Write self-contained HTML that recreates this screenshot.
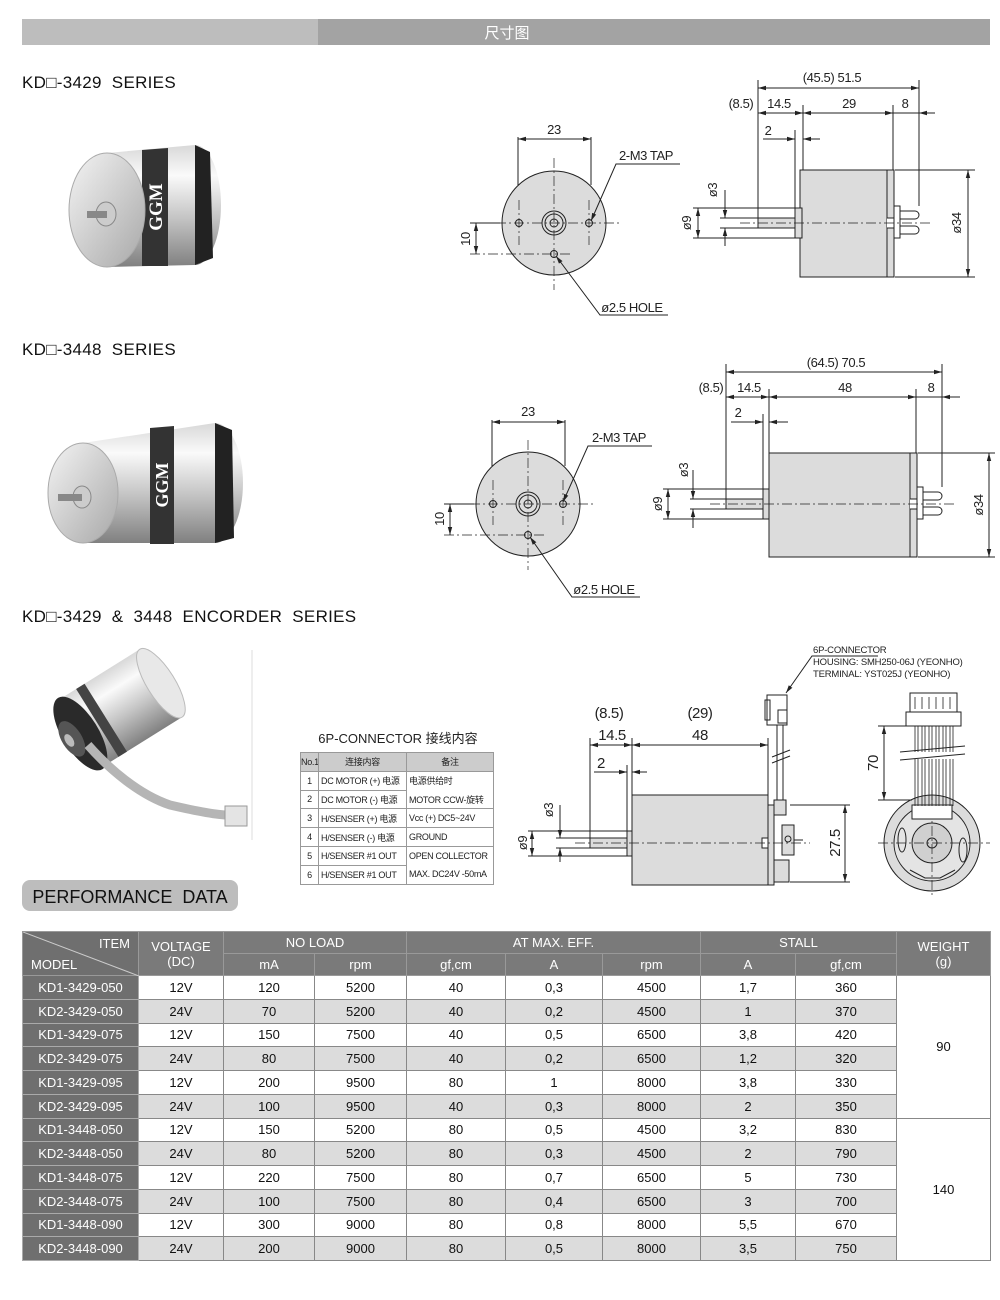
<!DOCTYPE html>
<html><head><meta charset="utf-8">
<style>
*{margin:0;padding:0;box-sizing:border-box}
body{width:1000px;height:1300px;background:#fff;position:relative;overflow:hidden;font-family:"Liberation Sans","Noto Sans CJK SC",sans-serif}
svg{position:absolute;left:0;top:0}
.t{position:absolute;font-size:17px;color:#111;font-family:"Liberation Sans","Noto Sans CJK SC",sans-serif;letter-spacing:0.3px}
table.p{position:absolute;left:22px;top:931px;border-collapse:collapse;font-size:13px;font-family:"Liberation Sans","Noto Sans CJK SC",sans-serif;table-layout:fixed}
table.p td{border:1px solid #888;text-align:center;height:23.75px;padding:0;color:#111}
table.p tr.h td{background:#7a7a7a;color:#fff;height:22px;border-color:#999}
table.p td.m{background:#6f6f6f;color:#fff;border-color:#aaa}
table.p tr.g td{background:#dcdcdc}
table.p tr.g td.m{background:#6f6f6f}
table.p td.w{background:#fff}
table.c{position:absolute;left:300px;top:752px;border-collapse:collapse;font-size:9px;font-family:"Liberation Sans","Noto Sans CJK SC",sans-serif;table-layout:fixed;width:193px}
table.c td{border:1px solid #999;height:18.8px;padding:0 2px;color:#222;white-space:nowrap;overflow:hidden;letter-spacing:-0.3px}
</style></head><body>
<svg width="1000" height="1300" viewBox="0 0 1000 1300" font-family="Liberation Sans, sans-serif">
<defs>
<marker id="a" markerWidth="8" markerHeight="6" refX="8" refY="3" orient="auto-start-reverse" markerUnits="userSpaceOnUse"><path d="M0,0.8L8,3L0,5.2z" fill="#222"/></marker>
<linearGradient id="cyl" x1="0" y1="0" x2="0" y2="1"><stop offset="0" stop-color="#d8d8d8"/><stop offset="0.25" stop-color="#fafafa"/><stop offset="0.6" stop-color="#c4c4c4"/><stop offset="1" stop-color="#808080"/></linearGradient>
<linearGradient id="face" x1="0" y1="0" x2="1" y2="1"><stop offset="0" stop-color="#f4f4f4"/><stop offset="1" stop-color="#a8a8a8"/></linearGradient>
</defs>
<rect x="22" y="19" width="296" height="26" fill="#bdbdbd"/>
<rect x="318" y="19" width="672" height="26" fill="#a3a3a3"/>
<text x="507" y="38" fill="#fff" font-size="15" text-anchor="middle" font-family="Noto Sans CJK SC, sans-serif">尺寸图</text>

<!-- Photo 1 -->
<g>
<path d="M107,153 L195,145 A26,60 0 0 1 195,265 L107,267 Z" fill="url(#cyl)"/>
<path d="M142,150 L168,148 L168,266 L142,266 Z" fill="#333"/>
<text fill="#fff" font-size="19" font-weight="bold" transform="translate(162,207) rotate(-90)" text-anchor="middle" font-family="Liberation Serif, serif">GGM</text>
<path d="M195,145 L210,152 L213,258 L195,265 Z" fill="#222"/>
<ellipse cx="107" cy="210" rx="38" ry="57" fill="url(#face)" stroke="#aaa"/>
<ellipse cx="106" cy="214" rx="10" ry="12" fill="#ccc" stroke="#888"/>
<rect x="87" y="211" width="20" height="7" fill="#888"/>
</g>
<!-- Photo 2 -->
<g>
<path d="M83,443 L215,423 A28,60 0 0 1 215,543 L83,543 Z" fill="url(#cyl)"/>
<path d="M150,428 L174,426 L174,544 L150,544 Z" fill="#333"/>
<text fill="#fff" font-size="18" font-weight="bold" transform="translate(168,485) rotate(-90)" text-anchor="middle" font-family="Liberation Serif, serif">GGM</text>
<path d="M215,423 L232,430 L234,538 L215,543 Z" fill="#222"/>
<ellipse cx="83" cy="493" rx="35" ry="50" fill="url(#face)" stroke="#aaa"/>
<ellipse cx="82" cy="497" rx="9" ry="11" fill="#ccc" stroke="#888"/>
<rect x="58" y="494" width="24" height="7" fill="#888"/>
</g>
<!-- Photo 3 -->
<g transform="rotate(-32 110 715)">
<rect x="75" y="675" width="95" height="80" fill="url(#cyl)"/>
<ellipse cx="170" cy="715" rx="14" ry="40" fill="#e8e8e8" stroke="#bbb"/>
<rect x="95" y="675" width="10" height="80" fill="#444"/>
<ellipse cx="75" cy="715" rx="18" ry="42" fill="#2a2a2a"/>
<ellipse cx="65" cy="715" rx="10" ry="20" fill="#555"/>
<ellipse cx="62" cy="715" rx="4" ry="7" fill="#bbb"/>
</g>
<path d="M88,745 C110,770 140,795 170,805 C200,812 220,815 228,815" stroke="#b5b5b5" stroke-width="9" fill="none"/>
<rect x="225" y="806" width="22" height="20" fill="#e4e4e4" stroke="#999"/>
<line x1="252" y1="650" x2="252" y2="840" stroke="#ddd"/>

<g stroke="#222" stroke-width="1" fill="none">
<!-- Drawing 1 front -->
<circle cx="554" cy="223" r="52" fill="#dcdcdc"/>
<circle cx="554" cy="223" r="12" fill="#dcdcdc"/><circle cx="554" cy="223" r="9"/><circle cx="554" cy="223" r="4"/>
<circle cx="519" cy="223" r="3.5"/><circle cx="589" cy="223" r="3.5"/><circle cx="554" cy="254" r="3.5"/>
<g stroke-dasharray="10,3,2,3" stroke-width="0.7"><line x1="496" y1="223" x2="620" y2="223"/><line x1="554" y1="158" x2="554" y2="290"/><line x1="470" y1="254" x2="570" y2="254"/><line x1="519" y1="200" x2="519" y2="245"/><line x1="589" y1="200" x2="589" y2="245"/></g>
<line x1="518" y1="137" x2="518" y2="185"/><line x1="591" y1="137" x2="591" y2="185"/>
<line x1="518" y1="139" x2="591" y2="139" marker-start="url(#a)" marker-end="url(#a)"/>
<line x1="470" y1="223" x2="500" y2="223"/><line x1="476" y1="223" x2="476" y2="254" marker-start="url(#a)" marker-end="url(#a)"/>
<polyline points="591,221 616,164 680,164" marker-start="url(#a)"/>
<polyline points="556,256 600,315 668,315" marker-start="url(#a)"/>
<!-- Drawing 1 side -->
<rect x="800" y="170" width="94" height="107" fill="#dcdcdc"/>
<line x1="887" y1="170" x2="887" y2="277"/>
<rect x="758" y="218" width="37" height="10" fill="#dcdcdc"/>
<rect x="795" y="208" width="7" height="30" fill="#dcdcdc"/>
<path d="M887,218 h7 v10 h-7" fill="#fff"/>
<rect x="894" y="206" width="6" height="32"/>
<path d="M900,211 h15 a4,4 0 0 1 0,8 h-15 M900,226 h15 a4,4 0 0 1 0,8 h-15"/>
<line x1="740" y1="223" x2="930" y2="223" stroke-dasharray="10,3,2,3" stroke-width="0.7"/>
<line x1="758" y1="80" x2="758" y2="218"/><line x1="803" y1="105" x2="803" y2="170"/><line x1="795" y1="130" x2="795" y2="208"/><line x1="893" y1="105" x2="893" y2="170"/><line x1="919" y1="80" x2="919" y2="206"/>
<line x1="758" y1="88" x2="919" y2="88" marker-start="url(#a)" marker-end="url(#a)"/>
<line x1="758" y1="113" x2="803" y2="113" marker-start="url(#a)" marker-end="url(#a)"/>
<line x1="803" y1="113" x2="893" y2="113" marker-start="url(#a)" marker-end="url(#a)"/>
<line x1="893" y1="113" x2="935" y2="113"/><line x1="919" y1="113" x2="935" y2="113" marker-start="url(#a)"/>
<line x1="763" y1="139" x2="795" y2="139" marker-end="url(#a)"/><line x1="820" y1="139" x2="803" y2="139" marker-end="url(#a)"/>
<line x1="895" y1="170" x2="975" y2="170"/><line x1="895" y1="277" x2="975" y2="277"/>
<line x1="968" y1="170" x2="968" y2="277" marker-start="url(#a)" marker-end="url(#a)"/>
<line x1="693" y1="208" x2="795" y2="208"/><line x1="693" y1="238" x2="795" y2="238"/>
<line x1="698" y1="208" x2="698" y2="238" marker-start="url(#a)" marker-end="url(#a)"/>
<line x1="720" y1="218" x2="758" y2="218"/><line x1="720" y1="228" x2="758" y2="228"/>
<line x1="725" y1="190" x2="725" y2="218" marker-end="url(#a)"/><line x1="725" y1="246" x2="725" y2="228" marker-end="url(#a)"/>

<!-- Drawing 2 front -->
<circle cx="528" cy="504" r="52" fill="#dcdcdc"/>
<circle cx="528" cy="504" r="12" fill="#dcdcdc"/><circle cx="528" cy="504" r="9"/><circle cx="528" cy="504" r="4"/>
<circle cx="493" cy="504" r="3.5"/><circle cx="563" cy="504" r="3.5"/><circle cx="528" cy="535" r="3.5"/>
<g stroke-dasharray="10,3,2,3" stroke-width="0.7"><line x1="470" y1="504" x2="594" y2="504"/><line x1="528" y1="440" x2="528" y2="570"/><line x1="444" y1="535" x2="545" y2="535"/><line x1="493" y1="480" x2="493" y2="525"/><line x1="563" y1="480" x2="563" y2="525"/></g>
<line x1="492" y1="420" x2="492" y2="466"/><line x1="565" y1="420" x2="565" y2="466"/>
<line x1="492" y1="422" x2="565" y2="422" marker-start="url(#a)" marker-end="url(#a)"/>
<line x1="444" y1="504" x2="474" y2="504"/><line x1="450" y1="504" x2="450" y2="535" marker-start="url(#a)" marker-end="url(#a)"/>
<polyline points="563,502 588,446 652,446" marker-start="url(#a)"/>
<polyline points="530,537 572,597 640,597" marker-start="url(#a)"/>
<!-- Drawing 2 side -->
<rect x="769" y="453" width="148" height="104" fill="#dcdcdc"/>
<line x1="910" y1="453" x2="910" y2="557"/>
<rect x="726" y="499" width="37" height="10" fill="#dcdcdc"/>
<rect x="763" y="489" width="6" height="30" fill="#dcdcdc"/>
<path d="M910,499 h7 v10 h-7" fill="#fff"/>
<rect x="917" y="487" width="6" height="32"/>
<path d="M923,492 h15 a4,4 0 0 1 0,8 h-15 M923,507 h15 a4,4 0 0 1 0,8 h-15"/>
<line x1="710" y1="504" x2="955" y2="504" stroke-dasharray="10,3,2,3" stroke-width="0.7"/>
<line x1="726" y1="364" x2="726" y2="499"/><line x1="769" y1="389" x2="769" y2="453"/><line x1="763" y1="414" x2="763" y2="489"/><line x1="916" y1="389" x2="916" y2="453"/><line x1="942" y1="364" x2="942" y2="487"/>
<line x1="726" y1="372" x2="942" y2="372" marker-start="url(#a)" marker-end="url(#a)"/>
<line x1="726" y1="397" x2="769" y2="397" marker-start="url(#a)" marker-end="url(#a)"/>
<line x1="769" y1="397" x2="916" y2="397" marker-start="url(#a)" marker-end="url(#a)"/>
<line x1="916" y1="397" x2="960" y2="397"/><line x1="942" y1="397" x2="960" y2="397" marker-start="url(#a)"/>
<line x1="731" y1="422" x2="763" y2="422" marker-end="url(#a)"/><line x1="788" y1="422" x2="769" y2="422" marker-end="url(#a)"/>
<line x1="918" y1="453" x2="995" y2="453"/><line x1="918" y1="557" x2="995" y2="557"/>
<line x1="989" y1="453" x2="989" y2="557" marker-start="url(#a)" marker-end="url(#a)"/>
<line x1="663" y1="489" x2="763" y2="489"/><line x1="663" y1="519" x2="763" y2="519"/>
<line x1="668" y1="489" x2="668" y2="519" marker-start="url(#a)" marker-end="url(#a)"/>
<line x1="690" y1="499" x2="726" y2="499"/><line x1="690" y1="509" x2="726" y2="509"/>
<line x1="693" y1="470" x2="693" y2="499" marker-end="url(#a)"/><line x1="693" y1="528" x2="693" y2="509" marker-end="url(#a)"/>

<!-- Encoder side -->
<rect x="632" y="795" width="136" height="90" fill="#dcdcdc"/>
<rect x="590" y="838" width="37" height="10" fill="#dcdcdc"/>
<rect x="627" y="831" width="5" height="25" fill="#dcdcdc"/>
<path d="M768,838 h-6 v10 h6" fill="#fff"/>
<rect x="768" y="805" width="6" height="80" fill="#dcdcdc"/>
<rect x="774" y="800" width="12" height="15" fill="#dcdcdc"/>
<rect x="782" y="825" width="12" height="30" fill="#dcdcdc"/><circle cx="788" cy="839" r="3"/>
<rect x="774" y="860" width="15" height="22" fill="#dcdcdc"/>
<line x1="794" y1="840" x2="803" y2="840"/>
<line x1="777" y1="725" x2="777" y2="800"/><line x1="783" y1="725" x2="783" y2="800"/>
<line x1="772" y1="757" x2="790" y2="750"/><line x1="772" y1="763" x2="790" y2="756"/>
<rect x="767" y="695" width="20" height="30" fill="#fff"/><rect x="765" y="700" width="5" height="20"/><rect x="778" y="710" width="9" height="13"/>
<polyline points="786,693 812,656 878,656" marker-start="url(#a)"/>
<line x1="575" y1="843" x2="810" y2="843" stroke-dasharray="10,3,2,3" stroke-width="0.7"/>
<line x1="590" y1="738" x2="590" y2="838"/><line x1="632" y1="738" x2="632" y2="795"/><line x1="627" y1="765" x2="627" y2="831"/><line x1="768" y1="738" x2="768" y2="795"/>
<line x1="590" y1="745" x2="632" y2="745" marker-start="url(#a)" marker-end="url(#a)"/>
<line x1="632" y1="745" x2="768" y2="745" marker-start="url(#a)" marker-end="url(#a)"/>
<line x1="594" y1="772" x2="627" y2="772" marker-end="url(#a)"/><line x1="647" y1="772" x2="632" y2="772" marker-end="url(#a)"/>
<line x1="528" y1="831" x2="627" y2="831"/><line x1="528" y1="856" x2="627" y2="856"/>
<line x1="532" y1="831" x2="532" y2="856" marker-start="url(#a)" marker-end="url(#a)"/>
<line x1="556" y1="838" x2="590" y2="838"/><line x1="556" y1="848" x2="590" y2="848"/>
<line x1="560" y1="805" x2="560" y2="838" marker-end="url(#a)"/><line x1="560" y1="862" x2="560" y2="848" marker-end="url(#a)"/>
<line x1="790" y1="805" x2="850" y2="805"/><line x1="790" y1="882" x2="850" y2="882"/>
<line x1="845" y1="805" x2="845" y2="882" marker-start="url(#a)" marker-end="url(#a)"/>
<!-- Encoder end -->
<circle cx="932" cy="843" r="48" fill="#dcdcdc"/>
<circle cx="932" cy="843" r="38" fill="#e4e4e4"/>
<circle cx="932" cy="843" r="20" fill="#d0d0d0"/>
<circle cx="932" cy="843" r="5"/>
<ellipse cx="902" cy="840" rx="4" ry="12"/><ellipse cx="963" cy="850" rx="4" ry="12"/>
<path d="M910,870 l15,8 h15 l15,-8"/>
<g stroke-dasharray="10,3,2,3" stroke-width="0.7"><line x1="878" y1="843" x2="990" y2="843"/><line x1="932" y1="790" x2="932" y2="898"/></g>
<rect x="912" y="805" width="40" height="14" fill="#fff"/>
<rect x="910" y="693" width="47" height="32" fill="#fff"/>
<rect x="906" y="712" width="55" height="14" fill="#fff"/>
<g stroke-width="0.8"><path d="M915,697v12M922,697v12M929,697v12M936,697v12M943,697v12M950,697v12"/>
<path d="M915,726v80M922,726v80M929,726v80M936,726v80M943,726v80M950,726v80M918,726v80M925,726v80M932,726v80M939,726v80M946,726v80M953,726v80"/></g>
<rect x="905" y="752" width="60" height="7" fill="#fff" stroke="none"/>
<line x1="900" y1="752" x2="965" y2="746"/><line x1="900" y1="760" x2="965" y2="754"/>
<line x1="878" y1="726" x2="910" y2="726"/><line x1="878" y1="800" x2="912" y2="800"/>
<line x1="884" y1="726" x2="884" y2="800" marker-start="url(#a)" marker-end="url(#a)"/>
</g>

<g fill="#222" font-size="13" text-anchor="middle" letter-spacing="-0.4">
<text x="554" y="134">23</text>
<text x="646" y="160">2-M3 TAP</text>
<text x="632" y="312">ø2.5 HOLE</text>
<text transform="translate(470,239) rotate(-90)">10</text>
<text x="832" y="82">(45.5) 51.5</text>
<text x="741" y="108">(8.5)</text><text x="779" y="108">14.5</text><text x="849" y="108">29</text><text x="905" y="108">8</text>
<text x="768" y="135">2</text>
<text transform="translate(717,190) rotate(-90)">ø3</text>
<text transform="translate(691,223) rotate(-90)">ø9</text>
<text transform="translate(961,223) rotate(-90)">ø34</text>

<text x="528" y="416">23</text>
<text x="619" y="442">2-M3 TAP</text>
<text x="604" y="594">ø2.5 HOLE</text>
<text transform="translate(444,519) rotate(-90)">10</text>
<text x="836" y="367">(64.5) 70.5</text>
<text x="711" y="392">(8.5)</text><text x="749" y="392">14.5</text><text x="845" y="392">48</text><text x="931" y="392">8</text>
<text x="738" y="417">2</text>
<text transform="translate(688,470) rotate(-90)">ø3</text>
<text transform="translate(662,504) rotate(-90)">ø9</text>
<text transform="translate(983,505) rotate(-90)">ø34</text>

<text x="609" y="718" font-size="15">(8.5)</text><text x="700" y="718" font-size="15">(29)</text>
<text x="612" y="740" font-size="15">14.5</text><text x="700" y="740" font-size="15">48</text>
<text x="601" y="768" font-size="15">2</text>
<text transform="translate(553,810) rotate(-90)">ø3</text>
<text transform="translate(527,843) rotate(-90)">ø9</text>
<text transform="translate(840,843) rotate(-90)" font-size="15">27.5</text>
<text transform="translate(878,763) rotate(-90)" font-size="15">70</text>
</g>
<g fill="#222" font-size="9.5" letter-spacing="-0.2">
<text x="813" y="653">6P-CONNECTOR</text>
<text x="813" y="665">HOUSING: SMH250-06J (YEONHO)</text>
<text x="813" y="677">TERMINAL: YST025J (YEONHO)</text>
</g>
<rect x="22" y="880" width="216" height="31" rx="8" fill="#bdbdbd"/>
<text x="130" y="903" font-size="18" text-anchor="middle" fill="#111">PERFORMANCE&#160;&#160;DATA</text>
<text x="398" y="743" font-size="13" text-anchor="middle" fill="#222" font-family="Liberation Sans, Noto Sans CJK SC, sans-serif">6P-CONNECTOR 接线内容</text>
</svg>

<div class="t" style="left:22px;top:73px">KD□-3429&#160;&#160;SERIES</div>
<div class="t" style="left:22px;top:340px">KD□-3448&#160;&#160;SERIES</div>
<div class="t" style="left:22px;top:607px">KD□-3429&#160;&#160;&amp;&#160;&#160;3448&#160;&#160;ENCORDER&#160;&#160;SERIES</div>

<table class="c">
<colgroup><col style="width:18px"><col style="width:88px"><col style="width:87px"></colgroup>
<tr><td style="background:#ccc;padding:0">No.1</td><td style="background:#ccc;text-align:center">连接内容</td><td style="background:#ccc;text-align:center">备注</td></tr>
<tr><td style="text-align:center">1</td><td>DC MOTOR (+) 电源</td><td style="border-bottom:none">电源供给时</td></tr>
<tr><td style="text-align:center">2</td><td>DC MOTOR (-) 电源</td><td style="border-top:none">MOTOR CCW-旋转</td></tr>
<tr><td style="text-align:center">3</td><td>H/SENSER (+) 电源</td><td>Vcc (+) DC5~24V</td></tr>
<tr><td style="text-align:center">4</td><td>H/SENSER (-) 电源</td><td>GROUND</td></tr>
<tr><td style="text-align:center">5</td><td>H/SENSER #1 OUT</td><td style="border-bottom:none">OPEN COLLECTOR</td></tr>
<tr><td style="text-align:center">6</td><td>H/SENSER #1 OUT</td><td style="border-top:none">MAX. DC24V -50mA</td></tr>
</table>

<table class="p">
<colgroup><col style="width:116px"><col style="width:85px"><col style="width:91px"><col style="width:92px"><col style="width:99px"><col style="width:97px"><col style="width:98px"><col style="width:95px"><col style="width:101px"><col style="width:94px"></colgroup>
<tr class="h"><td rowspan="2" style="position:relative;background:#6f6f6f"><svg width="116" height="44" style="position:absolute;left:0;top:0"><line x1="0" y1="0" x2="116" y2="44" stroke="#ccc"/></svg><span style="position:absolute;right:8px;top:4px">ITEM</span><span style="position:absolute;left:8px;bottom:3px">MODEL</span></td><td rowspan="2">VOLTAGE<br>(DC)</td><td colspan="2">NO LOAD</td><td colspan="3">AT MAX. EFF.</td><td colspan="2">STALL</td><td rowspan="2">WEIGHT<br>(g)</td></tr>
<tr class="h"><td>mA</td><td>rpm</td><td>gf,cm</td><td>A</td><td>rpm</td><td>A</td><td>gf,cm</td></tr>
<tr><td class="m">KD1-3429-050</td><td>12V</td><td>120</td><td>5200</td><td>40</td><td>0,3</td><td>4500</td><td>1,7</td><td>360</td><td class="w" rowspan="6">90</td></tr>
<tr class="g"><td class="m">KD2-3429-050</td><td>24V</td><td>70</td><td>5200</td><td>40</td><td>0,2</td><td>4500</td><td>1</td><td>370</td></tr>
<tr><td class="m">KD1-3429-075</td><td>12V</td><td>150</td><td>7500</td><td>40</td><td>0,5</td><td>6500</td><td>3,8</td><td>420</td></tr>
<tr class="g"><td class="m">KD2-3429-075</td><td>24V</td><td>80</td><td>7500</td><td>40</td><td>0,2</td><td>6500</td><td>1,2</td><td>320</td></tr>
<tr><td class="m">KD1-3429-095</td><td>12V</td><td>200</td><td>9500</td><td>80</td><td>1</td><td>8000</td><td>3,8</td><td>330</td></tr>
<tr class="g"><td class="m">KD2-3429-095</td><td>24V</td><td>100</td><td>9500</td><td>40</td><td>0,3</td><td>8000</td><td>2</td><td>350</td></tr>
<tr><td class="m">KD1-3448-050</td><td>12V</td><td>150</td><td>5200</td><td>80</td><td>0,5</td><td>4500</td><td>3,2</td><td>830</td><td class="w" rowspan="6">140</td></tr>
<tr class="g"><td class="m">KD2-3448-050</td><td>24V</td><td>80</td><td>5200</td><td>80</td><td>0,3</td><td>4500</td><td>2</td><td>790</td></tr>
<tr><td class="m">KD1-3448-075</td><td>12V</td><td>220</td><td>7500</td><td>80</td><td>0,7</td><td>6500</td><td>5</td><td>730</td></tr>
<tr class="g"><td class="m">KD2-3448-075</td><td>24V</td><td>100</td><td>7500</td><td>80</td><td>0,4</td><td>6500</td><td>3</td><td>700</td></tr>
<tr><td class="m">KD1-3448-090</td><td>12V</td><td>300</td><td>9000</td><td>80</td><td>0,8</td><td>8000</td><td>5,5</td><td>670</td></tr>
<tr class="g"><td class="m">KD2-3448-090</td><td>24V</td><td>200</td><td>9000</td><td>80</td><td>0,5</td><td>8000</td><td>3,5</td><td>750</td></tr>
</table>
</body></html>
